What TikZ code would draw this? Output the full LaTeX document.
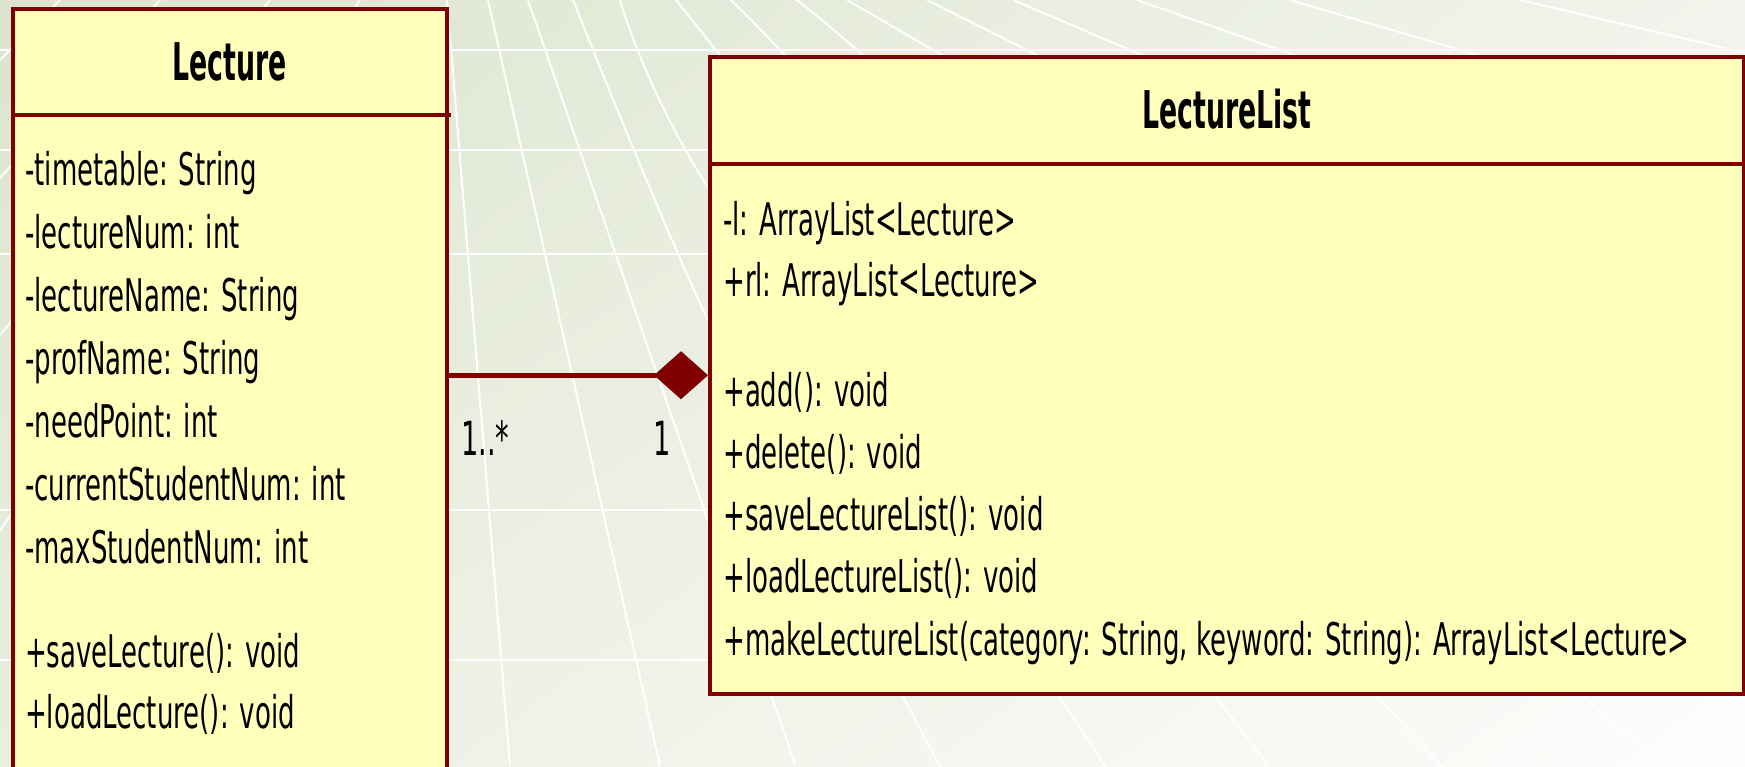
\documentclass[tikz,border=0pt]{standalone}
\usepackage{fontspec}
\setmainfont{DejaVu Sans}[FakeStretch=0.578]
\newfontfamily\titlefont{DejaVu Sans}[FakeStretch=0.515]
\usetikzlibrary{arrows.meta,shadings}
\definecolor{bgUL}{HTML}{DCE4CD}
\definecolor{bgUR}{HTML}{F1F4EC}
\definecolor{bgLL}{HTML}{E9EEDF}
\definecolor{bgLR}{HTML}{FDFDFC}
\definecolor{umlred}{HTML}{800000}
\definecolor{umlfill}{HTML}{FFFFBB}
\tikzset{
  umlbox/.style={draw=umlred, line width=3.5pt, fill=umlfill, inner sep=0pt, rectangle},
  sepline/.style={umlred, line width=4pt},
  txt/.style={anchor=base west, inner sep=0pt, font=\fontsize{45}{54}\selectfont},
  mult/.style={anchor=base west, inner sep=0pt, font=\fontsize{47}{56}\selectfont},
  ttl/.style={anchor=base, inner sep=0pt, font=\titlefont\bfseries\fontsize{52}{60}\selectfont},
  gridline/.style={white, line width=2pt},
  conn/.style={umlred, line width=4.5pt, -{Diamond[length=54pt,width=48pt]}}
}
\begin{document}
\begin{tikzpicture}[x=1pt,y=-1pt]
\useasboundingbox (0,0) rectangle (1745,766);
\clip (0,0) rectangle (1745,766);
% background
\shade[upper left=bgUL, upper right=bgUR, lower left=bgLL, lower right=bgLR] (0,0) rectangle (1745,766);
% perspective grid
\foreach \y in {50,150,254,510,660} \draw[gridline] (0,\y) -- (1745,\y);
\draw[gridline] (447,0) -- (510,766);
\draw[gridline] (488,0) -- (660,766);
\draw[gridline] plot[smooth] coordinates {(528,0) (707,518) (781,723) (795,766)};
\draw[gridline] plot[smooth] coordinates {(573,0) (707,318) (917,723) (940,766)};
\draw[gridline] plot[smooth] coordinates {(620,0) (707,186) (1077,723) (1100,766)};
\draw[gridline] plot[smooth] coordinates {(667,0) (700,30) (1236,723) (1265,766)};
\draw[gridline] plot[smooth] coordinates {(720,0) (780,50) (1402,723) (1440,766)};
\draw[gridline] plot[smooth] coordinates {(783,0) (857,50) (1581,695) (1673,766)};
\draw[gridline] (847,0) -- (933,50) -- (1020,100);
\draw[gridline] (927,0) -- (1027,50) -- (1127,100);
\draw[gridline] (1013,0) -- (1130,50) -- (1247,100);
\draw[gridline] (1137,0) -- (1280,50) -- (1423,100);
\draw[gridline] (1290,0) -- (1460,50) -- (1630,100);
\draw[gridline] (1520,0) -- (1733,50) -- (1946,100);
\draw[gridline] (60,0) -- (-20,80);
\draw[gridline] (160,0) -- (-20,200);
\draw[gridline] (270,0) -- (-20,360);
\draw[gridline] (360,0) -- (-20,560);
% Lecture class
\node[umlbox, minimum width=434pt, minimum height=800pt, anchor=north west] (Lec) at (11,7) {};
\draw[sepline] (Lec.west |- 0,115) -- ([xshift=2pt]Lec.east |- 0,115);
\node[ttl] (LecT) at (Lec.north |- 0,80) {Lecture};
\foreach \t [count=\i from 0] in {-timetable: String, -lectureNum: int, -lectureName: String, -profName: String, -needPoint: int, -currentStudentNum: int, -maxStudentNum: int}
  \node[txt] (lecA\i) at (25,{185+63.1*\i}) {\t};
\node[txt] (lecM1) at (25,667) {+saveLecture(): void};
\node[txt] (lecM2) at (25,728) {+loadLecture(): void};
% LectureList class
\node[umlbox, minimum width=1034pt, minimum height=637pt, anchor=north west] (LL) at (708,55) {};
\draw[sepline] (LL.west |- 0,164) -- (LL.east |- 0,164);
\node[ttl] (LLT) at (LL.north |- 0,128) {LectureList};
\node[txt] (llA1) at (723,235) {-l: ArrayList<Lecture>};
\node[txt] (llA2) at (723,296) {+rl: ArrayList<Lecture>};
\foreach \t [count=\i from 0] in {+add(): void, +delete(): void, +saveLectureList(): void, +loadLectureList(): void, {+makeLectureList(category: String, keyword: String): ArrayList<Lecture>}}
  \node[txt] (llM\i) at (723,{406+62.25*\i}) {\t};
% composition
\draw[conn] (Lec.east |- LL.west) -- (LL.west);
\node[mult] (m1) at (461,455) {1..*};
\node[mult] (m2) at (653,455) {1};
\end{tikzpicture}
\end{document}
